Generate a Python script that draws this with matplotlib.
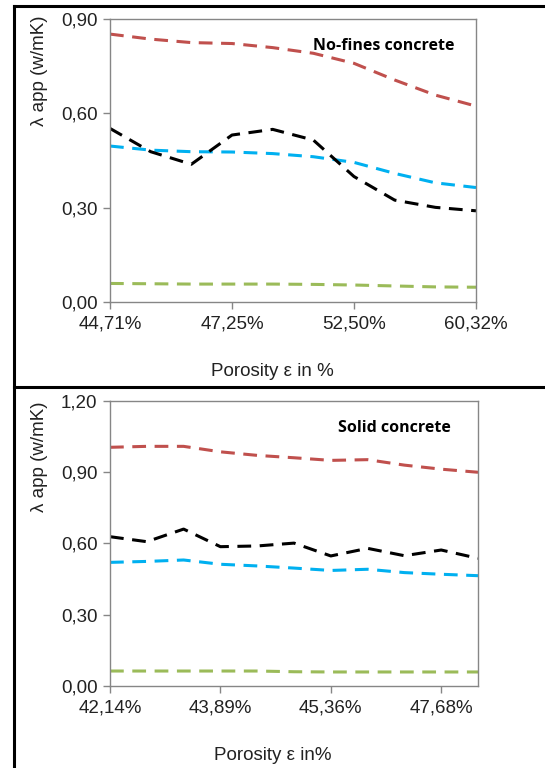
import numpy as np
import matplotlib
matplotlib.use("Agg")
import matplotlib.pyplot as plt
from matplotlib.lines import Line2D

# top panel: no-fines concrete
nf_ticks = ["44,71%", "47,25%", "52,50%", "60,32%"]
nf_red = [0.852, 0.836, 0.825, 0.822, 0.809, 0.791, 0.759, 0.706, 0.658, 0.623]
nf_blue = [0.496, 0.483, 0.478, 0.477, 0.472, 0.462, 0.444, 0.409, 0.379, 0.364]
nf_black = [0.552, 0.478, 0.438, 0.531, 0.549, 0.515, 0.399, 0.324, 0.301, 0.290]
nf_green = [0.059, 0.058, 0.057, 0.057, 0.057, 0.056, 0.054, 0.051, 0.048, 0.047]

# bottom panel: solid concrete
sc_ticks = ["42,14%", "43,89%", "45,36%", "47,68%"]
sc_red = [1.004, 1.008, 1.008, 0.985, 0.970, 0.960, 0.949, 0.952, 0.929, 0.912, 0.899]
sc_blue = [0.520, 0.524, 0.530, 0.512, 0.505, 0.496, 0.486, 0.491, 0.477, 0.470, 0.464]
sc_black = [0.628, 0.607, 0.660, 0.586, 0.589, 0.601, 0.547, 0.579, 0.548, 0.572, 0.537]
sc_green = [0.063, 0.063, 0.063, 0.063, 0.063, 0.060, 0.059, 0.059, 0.059, 0.059, 0.059]

colors = {"red": "#C0504D", "blue": "#00B0F0", "black": "#000000", "green": "#9BBB59"}
font = "Liberation Sans"
gray = "#868686"

fig = plt.figure(figsize=(5.45, 7.68), dpi=100)


def panel(rect, series, ticks, ymax, title, title_xy, xlabel, xlabel_y, ylabel_y):
    ax = fig.add_axes(rect)
    n = len(series[0][1])
    x = np.arange(n)
    for name, vals in series:
        ax.plot(x, vals, color=colors[name], lw=2.2, ls=(0, (4.5, 2.8)),
                dash_capstyle="butt", dash_joinstyle="round")
    ax.set_xlim(0, n - 1)
    ax.set_ylim(0, ymax)
    ax.set_xticks([0, 3, 6, 9])
    ax.set_xticklabels(ticks, fontfamily=font, fontsize=13.5, color="#222222")
    yt = np.arange(0, ymax + 0.001, 0.3)
    ax.set_yticks(yt)
    ax.set_yticklabels([f"{v:.2f}".replace(".", ",") for v in yt],
                       fontfamily=font, fontsize=13.5, color="#222222")
    for s in ax.spines.values():
        s.set_color(gray)
        s.set_linewidth(1.0)
    ax.tick_params(axis="both", direction="out", length=5, color=gray, width=1.0)
    ax.tick_params(axis="x", pad=5)
    ax.tick_params(axis="y", pad=4)
    ax.text(title_xy[0], title_xy[1], title, transform=fig.transFigure,
            fontfamily="Open Sans", fontweight="bold", fontsize=11.5,
            ha="left", va="center")
    fig.text(0.5, xlabel_y, xlabel, fontfamily=font, fontsize=13.5,
             ha="center", va="center", color="#222222")
    fig.text(40 / 545, ylabel_y, "λ app (w/mK)", fontfamily=font, fontsize=13.5,
             rotation=90, ha="center", va="center", color="#222222")
    return ax


panel([110 / 545, 1 - 302 / 768, 366 / 545, 283 / 768],
      [("red", nf_red), ("blue", nf_blue), ("black", nf_black), ("green", nf_green)],
      nf_ticks, 0.9, "No-fines concrete", (313 / 545, 1 - 46 / 768),
      "Porosity ε in %", 1 - 372 / 768, 1 - 71 / 768)

panel([110 / 545, 1 - 686 / 768, 368 / 545, 285.3 / 768],
      [("red", sc_red), ("blue", sc_blue), ("black", sc_black), ("green", sc_green)],
      sc_ticks, 1.2, "Solid concrete", (338 / 545, 1 - 428 / 768),
      "Porosity ε in%", 1 - 756 / 768, 1 - 457 / 768)

# outer frames
def fline(xs, ys):
    fig.add_artist(Line2D([v / 545 for v in xs], [1 - v / 768 for v in ys],
                          color="black", lw=2.2, transform=fig.transFigure))

fline([14, 545], [6, 6])
fline([14, 14], [6, 768])
fline([14, 545], [387, 387])

fig.savefig("out.png", dpi=100)
